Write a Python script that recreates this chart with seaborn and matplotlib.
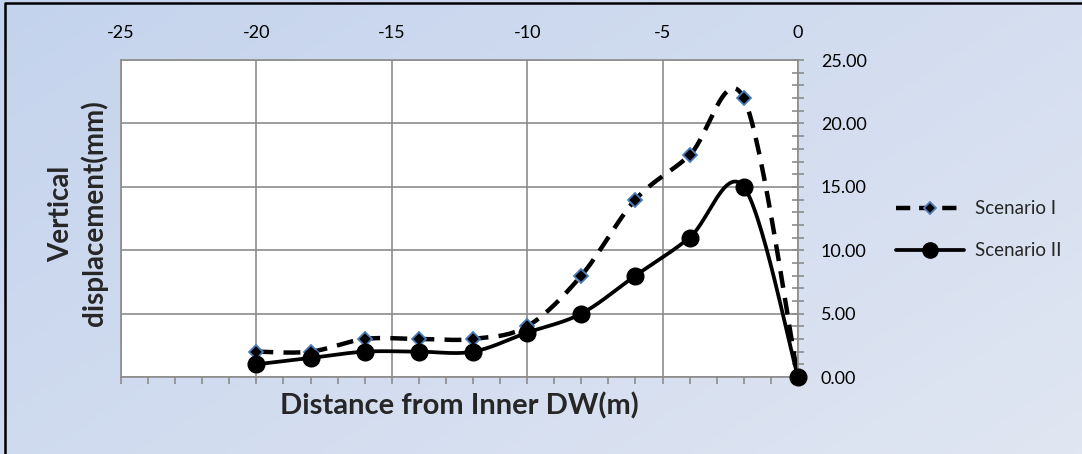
import numpy as np
import matplotlib
matplotlib.use("Agg")
import matplotlib.pyplot as plt
import seaborn as sns
from matplotlib.lines import Line2D
from matplotlib.ticker import MultipleLocator, FormatStrFormatter

sns.set_style("white")
plt.rcParams['font.family'] = ['Lato', 'DejaVu Sans']
plt.rcParams['axes.unicode_minus'] = False

# data
distance = [-20, -18, -16, -14, -12, -10, -8, -6, -4, -2, 0]
scenario_1 = [2, 2, 3, 3, 3, 4, 8, 14, 17.5, 22, 0]
scenario_2 = [1, 1.5, 2, 2, 2, 3.5, 5, 8, 11, 15, 0]


def smooth(xs, ys, n=30):
    # Catmull-Rom curve through the points, like Excel's smoothed line
    p = np.column_stack([xs, ys]).astype(float)
    p = np.vstack([p[0], p, p[-1]])
    out = []
    for i in range(1, len(p) - 2):
        p0, p1, p2, p3 = p[i - 1], p[i], p[i + 1], p[i + 2]
        t = np.linspace(0, 1, n, endpoint=False)[:, None]
        c = 0.5 * ((2 * p1) + (-p0 + p2) * t + (2 * p0 - 5 * p1 + 4 * p2 - p3) * t ** 2
                   + (-p0 + 3 * p1 - 3 * p2 + p3) * t ** 3)
        out.append(c)
    out.append(p[-2][None, :])
    c = np.vstack(out)
    return c[:, 0], c[:, 1]


fig = plt.figure(figsize=(10.82, 4.54), dpi=100)

# gradient background
bg = fig.add_axes([0, 0, 1, 1], zorder=-10)
gx, gy = np.meshgrid(np.linspace(0, 1, 200), np.linspace(0, 1, 100))
g = (gx * 0.6 + gy * 0.4)
c0 = np.array([196, 211, 237]) / 255
c1 = np.array([224, 230, 242]) / 255
img = c0[None, None, :] * (1 - g[..., None]) + c1[None, None, :] * g[..., None]
bg.imshow(img, aspect='auto', extent=[0, 1, 0, 1], origin='upper')
bg.set_xlim(0, 1)
bg.set_ylim(0, 1)
bg.set_axis_off()
# frame only on left and top edges
bg.plot([0.0045, 0.0045, 1], [0, 0.9935, 0.9935], color='black', linewidth=1.8,
        clip_on=False)

ax = fig.add_axes([0.1118, 0.1696, 0.6257, 0.698])
ax.set_facecolor('white')

dash = (0, (3.8, 2.3))
sx, sy = smooth(distance, scenario_1)
sns.lineplot(x=sx, y=sy, sort=False, ax=ax, color='black', linewidth=3.2,
             linestyle=dash, label='_nolegend_')
sx2, sy2 = smooth(distance, scenario_2)
sns.lineplot(x=sx2, y=sy2, sort=False, ax=ax, color='black', linewidth=2.7,
             label='_nolegend_')

ax.plot(distance, scenario_1, linestyle='none', marker='D', markersize=7,
        markerfacecolor='black', markeredgecolor='#4a7ebb', markeredgewidth=1.3,
        zorder=4, clip_on=False)
ax.plot(distance, scenario_2, linestyle='none', marker='o', markersize=12,
        color='black', zorder=5, clip_on=False)

handles = [
    Line2D([], [], color='black', linewidth=3.2, linestyle=(0, (3.2, 2.0)), marker='D',
           markersize=6, markerfacecolor='black', markeredgecolor='#4a7ebb',
           markeredgewidth=1.3),
    Line2D([], [], color='black', linewidth=2.7, marker='o', markersize=11),
]
fig.legend(handles, ['Scenario I', 'Scenario II'], loc='center left',
           bbox_to_anchor=(0.8195, 0.494), frameon=False, fontsize=13.5,
           handlelength=3.6, labelspacing=1.35, handletextpad=0.6, borderpad=0)

ax.set_xlim(-25, 0)
ax.set_ylim(0, 25)
ax.xaxis.set_major_locator(MultipleLocator(5))
ax.xaxis.set_minor_locator(MultipleLocator(1))
ax.yaxis.set_major_locator(MultipleLocator(5))
ax.yaxis.set_minor_locator(MultipleLocator(1))
ax.yaxis.set_major_formatter(FormatStrFormatter('%.2f'))
ax.yaxis.tick_right()
ax.grid(True, which='major', color='#8c8c8c', linewidth=1.2)

ax.tick_params(axis='x', which='both', bottom=True, top=False, labelbottom=False,
               labeltop=True, labelsize=13, colors='#8c8c8c', labelcolor='black')
ax.tick_params(axis='x', which='both', direction='out', length=5, width=1.2)
ax.tick_params(axis='y', which='both', left=False, right=True, direction='inout',
               length=9, width=1.2, colors='#8c8c8c', labelcolor='black', labelsize=13)
ax.tick_params(axis='y', which='major', pad=12)
ax.tick_params(axis='x', which='major', pad=9)

for s in ax.spines.values():
    s.set_color('#8c8c8c')
    s.set_linewidth(1.2)

ax.xaxis.set_label_position('bottom')
ax.set_xlabel('Distance from Inner DW(m)', fontsize=21, fontweight='bold', labelpad=6)
fig.text(0.072, 0.53, 'Vertical\ndisplacement(mm)', rotation=90, ha='center',
         va='center', fontsize=20, fontweight='bold', linespacing=1.3)

fig.savefig('out.png', dpi=100)
